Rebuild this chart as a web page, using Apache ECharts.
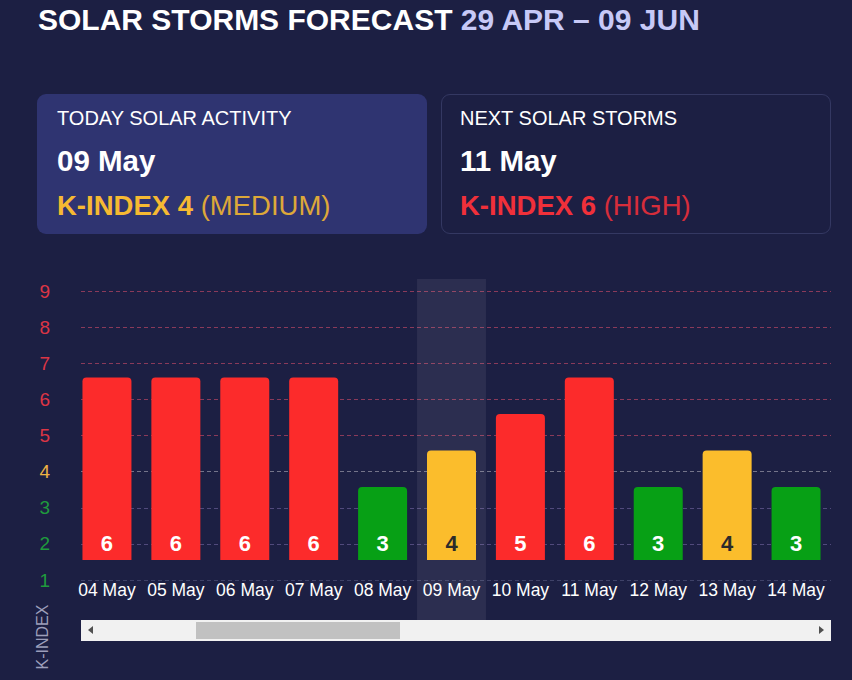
<!DOCTYPE html>
<html>
<head>
<meta charset="utf-8">
<script src="https://cdn.jsdelivr.net/npm/echarts@6/dist/echarts.min.js"></script>
<style>
html,body{margin:0;padding:0;background:#1c1f43;}
body{width:852px;height:680px;position:relative;overflow:hidden;font-family:'Liberation Sans',Arial,sans-serif;}
#chart{position:absolute;left:0;top:0;width:852px;height:680px;}
.abs{position:absolute;white-space:nowrap;}
.title{left:38px;top:5px;font-size:30px;line-height:30px;font-weight:bold;color:#fff;}
.title .range{color:#c7c9f7;}
.card{position:absolute;top:94px;height:140px;width:390px;box-sizing:border-box;border-radius:9px;}
.card1{left:37px;background:#2f3471;}
.card2{left:441px;border:1px solid #343862;}
.lbl{font-size:20px;line-height:20px;color:#fff;top:108px;}
.date{font-size:29.5px;line-height:29.5px;font-weight:bold;color:#fff;top:145.5px;}
.kidx{font-size:27.5px;line-height:27.5px;top:191.5px;}
.kidx b{font-weight:bold;}
.kidx span{opacity:.88;}
.med{color:#f6b932;}
.high{color:#f0303a;}
.track{position:absolute;left:81px;top:620px;width:750px;height:21px;background:#f1f1f1;}
.thumb{position:absolute;left:196px;top:622px;width:204px;height:17px;background:#c1c1c1;}
.arl{position:absolute;left:88px;top:626px;width:0;height:0;border-top:4.5px solid transparent;border-bottom:4.5px solid transparent;border-right:5px solid #505050;}
.arr{position:absolute;left:819px;top:626px;width:0;height:0;border-top:4.5px solid transparent;border-bottom:4.5px solid transparent;border-left:5px solid #505050;}
</style>
</head>
<body>
<div id="chart"></div>
<div class="abs title" id="title"></div>
<div class="card card1"></div>
<div class="card card2"></div>
<div class="abs lbl" style="left:57px" id="l1"></div>
<div class="abs date" style="left:57px" id="d1"></div>
<div class="abs kidx med" style="left:57px" id="k1"></div>
<div class="abs lbl" style="left:460px" id="l2"></div>
<div class="abs date" style="left:460px" id="d2"></div>
<div class="abs kidx high" style="left:460px" id="k2"></div>
<div class="track"></div>
<div class="thumb"></div>
<div class="arl"></div>
<div class="arr"></div>
<script>
// ---- data ----
const titleMain = 'SOLAR STORMS FORECAST';
const titleRange = '29 APR – 09 JUN';
const categories = ['04 May','05 May','06 May','07 May','08 May','09 May','10 May','11 May','12 May','13 May','14 May'];
const kIndex = [6, 6, 6, 6, 3, 4, 5, 6, 3, 4, 3];
const todayDate = '09 May';
const todayLabel = 'TODAY SOLAR ACTIVITY';
const todayLevel = 'MEDIUM';
const nextDate = '11 May';
const nextLabel = 'NEXT SOLAR STORMS';
const nextLevel = 'HIGH';
const yAxisName = 'K-INDEX';
const yMin = 1, yMax = 9, yStep = 1;

// ---- colours by level ----
const RED = '#fc2b2b', YELLOW = '#fbbd2c', GREEN = '#07a015';
function barColor(v){ return v >= 5 ? RED : (v === 4 ? YELLOW : GREEN); }
function tickColor(v){ return v >= 5 ? '#dc3545' : (v === 4 ? '#efb243' : '#1f9a3d'); }
function lineColor(v){ return v >= 5 ? '#8a3a5a' : (v === 4 ? '#74748a' : (v === 1 ? '#3f4268' : '#514a7c')); }

// ---- html texts ----
document.getElementById('title').innerHTML = titleMain + ' <span class="range">' + titleRange + '</span>';
const todayK = kIndex[categories.indexOf(todayDate)];
const nextK = kIndex[categories.indexOf(nextDate)];
document.getElementById('l1').textContent = todayLabel;
document.getElementById('d1').textContent = todayDate;
document.getElementById('k1').innerHTML = '<b>K-INDEX ' + todayK + '</b> <span>(' + todayLevel + ')</span>';
document.getElementById('l2').textContent = nextLabel;
document.getElementById('d2').textContent = nextDate;
document.getElementById('k2').innerHTML = '<b>K-INDEX ' + nextK + '</b> <span>(' + nextLevel + ')</span>';

const ticks = [];
for (let v = yMin; v <= yMax; v += yStep) ticks.push(v);

const chart = echarts.init(document.getElementById('chart'), null, {renderer: 'svg', width: 852, height: 680});
chart.setOption({
  animation: false,
  backgroundColor: 'transparent',
  textStyle: {fontFamily: "'Liberation Sans', Arial, sans-serif"},
  grid: [
    {left: 81, right: 21, top: 291, bottom: 100, outerBoundsMode: 'none'},
    {left: 72.5, right: 21.5, top: 268, bottom: 120, outerBoundsMode: 'none'},
    {left: 72.5, right: 21.5, top: 279, bottom: 60, outerBoundsMode: 'none'}
  ],
  xAxis: [
    {gridIndex: 0, type: 'category', data: categories, show: false},
    {gridIndex: 1, type: 'category', data: categories,
      axisLine: {show: false}, axisTick: {show: false}, splitLine: {show: false},
      axisLabel: {interval: 0, color: '#ffffff', fontSize: 17.5, margin: 21}},
    {gridIndex: 2, type: 'category', data: categories,
      axisLine: {show: false}, axisTick: {show: false}, axisLabel: {show: false}, splitLine: {show: false},
      axisPointer: {show: true, type: 'shadow', status: 'show', value: categories.indexOf(todayDate),
        triggerTooltip: false, z: 1, label: {show: false},
        shadowStyle: {color: 'rgba(255,255,255,0.07)'}}}
  ],
  yAxis: [
    {gridIndex: 0, type: 'value', min: yMin, max: yMax, interval: yStep,
      axisLine: {show: false}, axisTick: {show: false},
      axisLabel: {margin: 31, fontSize: 19, color: function (v) { return tickColor(Number(v)); }},
      splitLine: {show: true, lineStyle: {type: [4, 3], width: 1, color: ticks.map(lineColor)}}},
    {gridIndex: 1, type: 'value', min: yMin, max: yMax, show: false},
    {gridIndex: 2, type: 'value', show: false}
  ],
  graphic: [{
    type: 'text', x: 42.5, y: 637, rotation: Math.PI / 2,
    style: {text: yAxisName, fill: '#9c9eba', font: "16px 'Liberation Sans', Arial, sans-serif", align: 'center', verticalAlign: 'middle'}
  }],
  series: [{
    type: 'bar', xAxisIndex: 1, yAxisIndex: 1, barWidth: 49, clip: true, z: 2,
    data: kIndex.map(function (v) {
      return {value: v, itemStyle: {color: barColor(v), borderRadius: [4, 4, 0, 0]},
        label: {color: v === 4 ? '#2b2b2b' : '#ffffff'}};
    }),
    label: {show: true, position: 'insideBottom', distance: 6, fontSize: 22, fontWeight: 'bold'}
  }]
});
</script>
</body>
</html>
